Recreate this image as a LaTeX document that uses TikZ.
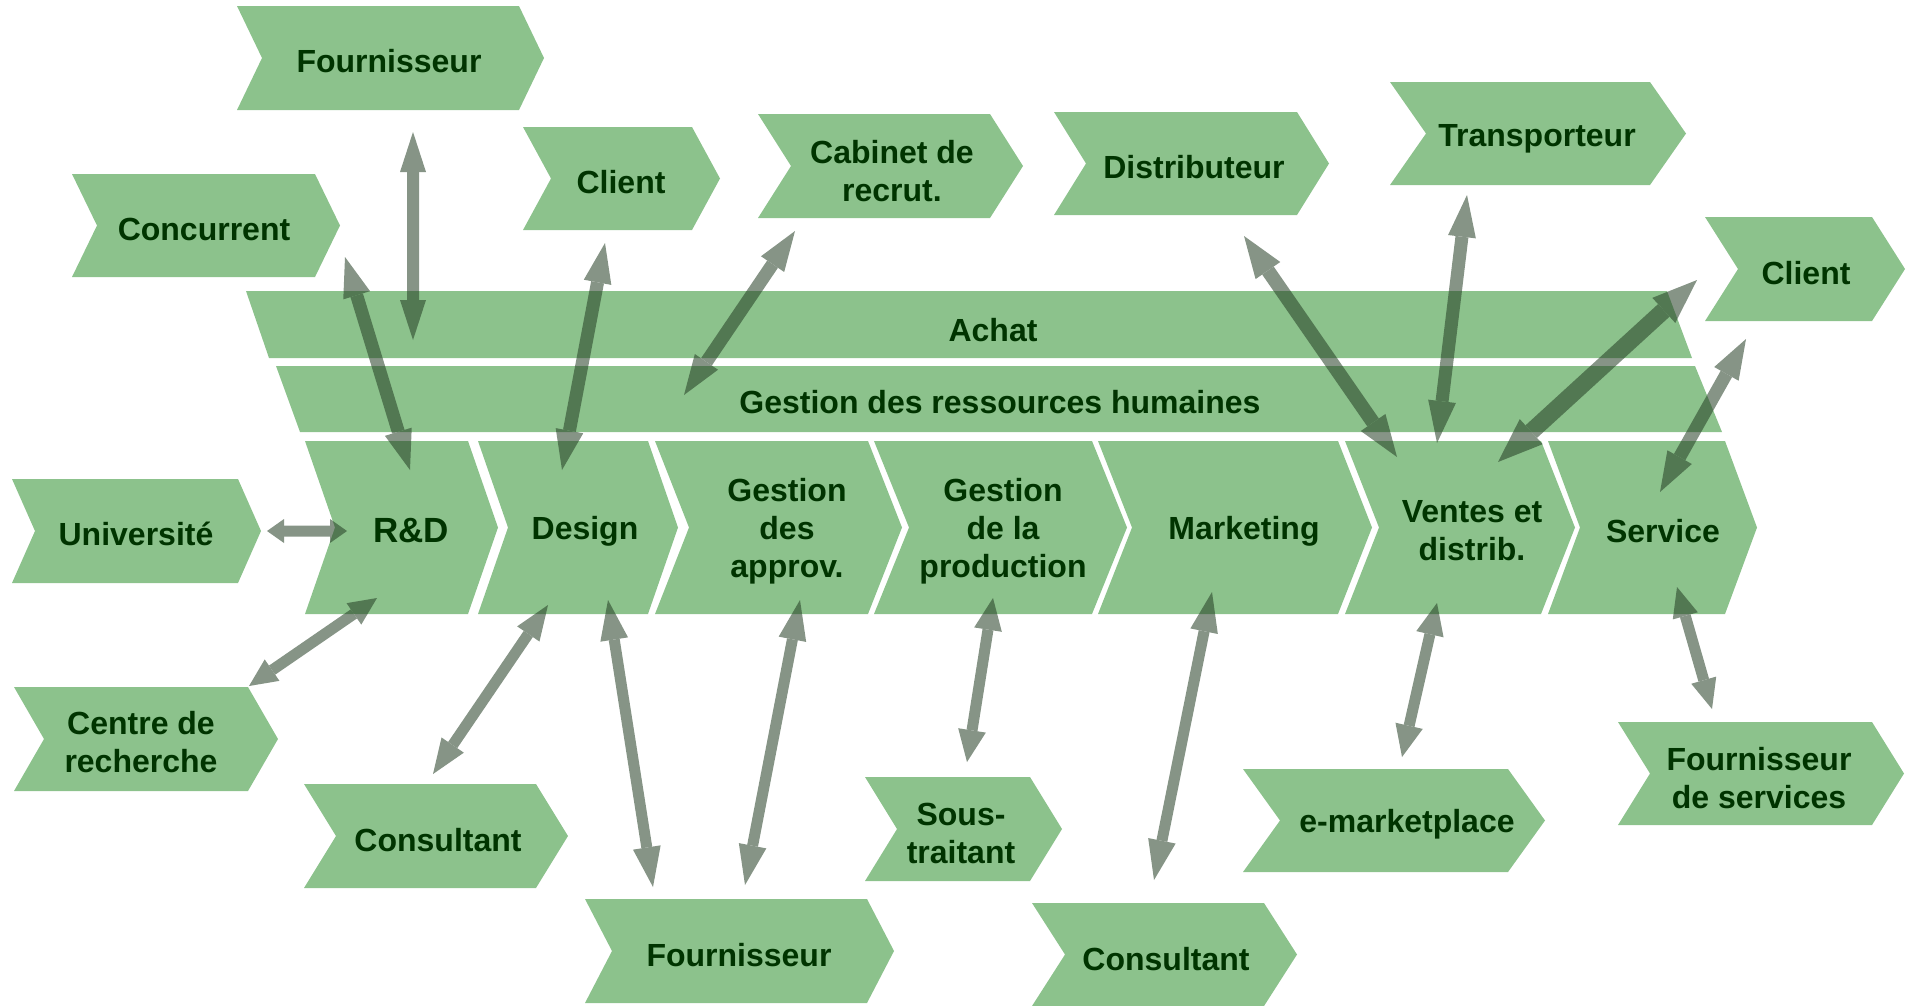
\documentclass[tikz,border=0pt]{standalone}
\usepackage{fontspec}
\setmainfont{Liberation Sans}
\usetikzlibrary{arrows.meta}
\definecolor{boxfill}{RGB}{140,194,140}
\definecolor{txtc}{RGB}{0,52,0}
\definecolor{arrc}{RGB}{35,60,35}
% #1 left x, #2 right x (top corner), #3 top y, #4 bottom y, #5 point depth
\newcommand\chevshape[5]{\fill[boxfill] (#1,#3) -- (#2,#3) -- ({#2+#5},{(#3+#4)/2}) -- (#2,#4) -- (#1,#4) -- ({#1+#5},{(#3+#4)/2}) -- cycle;}
\tikzset{
  lbl/.style={text=txtc, font=\fontsize{32}{38}\selectfont\bfseries, align=center, inner sep=0pt, yshift=-3pt},
  big/.style={font=\fontsize{35}{40}\selectfont\bfseries},
  dar/.style n args={3}{draw=arrc, line width=#1,
     {Triangle[length=#2,width=#3,line width=0pt]}-{Triangle[length=#2,width=#3,line width=0pt]}}
}
\begin{document}
\begin{tikzpicture}[x=1pt,y=-1pt]
\useasboundingbox (0,0) rectangle (1908,1005);
% ---------- support bars ----------
\fill[boxfill] (246,291) -- (1667,291) -- (1692,358) -- (269,358) -- cycle;
\fill[boxfill] (276,366) -- (1695,366) -- (1722,432) -- (300,432) -- cycle;
% ---------- primary chevrons ----------
\chevshape{305}{468}{441}{614}{30}
\chevshape{478}{648}{441}{614}{30}
\chevshape{655}{868}{441}{614}{34}
\chevshape{874}{1092}{441}{614}{35}
\chevshape{1098}{1338}{441}{614}{34}
\chevshape{1345}{1541}{441}{614}{34}
\chevshape{1548}{1725}{441}{614}{32}
% ---------- partners ----------
\chevshape{237}{519}{6}{110}{25}      % Fournisseur top
\chevshape{72}{315}{174}{277}{25}     % Concurrent
\chevshape{523}{692}{127}{230}{28}    % Client left
\chevshape{758}{990}{114}{218}{33}    % Cabinet
\chevshape{1054}{1297}{112}{215}{32}  % Distributeur
\chevshape{1390}{1650}{82}{185}{36}   % Transporteur
\chevshape{1705}{1872}{217}{321}{33}  % Client right
\chevshape{12}{238}{479}{583}{23}     % Universite
\chevshape{14}{248}{687}{791}{30}     % Centre
\chevshape{304}{536}{784}{888}{32}    % Consultant left
\chevshape{585}{867}{899}{1003}{27}   % Fournisseur bottom
\chevshape{865}{1030}{777}{881}{32}   % Sous-traitant
\chevshape{1032}{1264}{903}{1006}{33} % Consultant right
\chevshape{1243}{1508}{769}{872}{37}  % e-marketplace
\chevshape{1618}{1872}{722}{825}{32}  % Fournisseur de services
% ---------- arrow end points ----------
\coordinate (a1s) at (413,132);  \coordinate (a1e) at (413,340);
\coordinate (a2s) at (345,257);  \coordinate (a2e) at (410,470);
\coordinate (a3s) at (605,243);  \coordinate (a3e) at (562,470);
\coordinate (a4s) at (795,231);  \coordinate (a4e) at (684,395);
\coordinate (a5s) at (1244,236); \coordinate (a5e) at (1397,457);
\coordinate (a6s) at (1467,195); \coordinate (a6e) at (1437,443);
\coordinate (a7s) at (1697,280); \coordinate (a7e) at (1498,462);
\coordinate (a8s) at (1746,339); \coordinate (a8e) at (1660,492);
\coordinate (a9s) at (267,531);  \coordinate (a9e) at (347,531);
\coordinate (a10s) at (249,686); \coordinate (a10e) at (377,598);
\coordinate (a11s) at (433,774); \coordinate (a11e) at (548,605);
\coordinate (a12s) at (608,600); \coordinate (a12e) at (653,887);
\coordinate (a13s) at (800,600); \coordinate (a13e) at (745,885);
\coordinate (a14s) at (993,598); \coordinate (a14e) at (967,762);
\coordinate (a15s) at (1212,592); \coordinate (a15e) at (1154,880);
\coordinate (a16s) at (1437,603); \coordinate (a16e) at (1402,757);
\coordinate (a17s) at (1677,587); \coordinate (a17e) at (1712,709);
% ---------- arrows ----------
\begin{scope}[transparency group, opacity=0.55]
\draw[dar={12pt}{40pt}{26pt}] (a1s) -- (a1e);
\draw[dar={13pt}{40pt}{28pt}] (a2s) -- (a2e);
\draw[dar={13pt}{40pt}{28pt}] (a3s) -- (a3e);
\draw[dar={13pt}{40pt}{28pt}] (a4s) -- (a4e);
\draw[dar={14pt}{42pt}{30pt}] (a5s) -- (a5e);
\draw[dar={13pt}{42pt}{28pt}] (a6s) -- (a6e);
\draw[dar={17pt}{45pt}{34pt}] (a7s) -- (a7e);
\draw[dar={13pt}{40pt}{28pt}] (a8s) -- (a8e);
\draw[dar={11pt}{17pt}{24pt}] (a9s) -- (a9e);
\draw[dar={11pt}{28pt}{26pt}] (a10s) -- (a10e);
\draw[dar={11pt}{35pt}{27pt}] (a11s) -- (a11e);
\draw[dar={11pt}{40pt}{28pt}] (a12s) -- (a12e);
\draw[dar={11pt}{40pt}{28pt}] (a13s) -- (a13e);
\draw[dar={11pt}{32pt}{28pt}] (a14s) -- (a14e);
\draw[dar={11pt}{40pt}{28pt}] (a15s) -- (a15e);
\draw[dar={11pt}{32pt}{28pt}] (a16s) -- (a16e);
\draw[dar={11pt}{30pt}{26pt}] (a17s) -- (a17e);
\end{scope}
% ---------- labels ----------
\node[lbl] (fournT) at (389,58) {Fournisseur};
\node[lbl] (concur) at (204,226) {Concurrent};
\node[lbl] (clientL) at (621,179) {Client};
\node[lbl] (cabinet) at (892,168) {Cabinet de\\recrut.};
\node[lbl] (distrib) at (1194,164) {Distributeur};
\node[lbl] (transp) at (1537,136) {Transporteur};
\node[lbl] (clientR) at (1806,270) {Client};
\node[lbl] (achat) at (993,327) {Achat};
\node[lbl] (grh) at (1000,399) {Gestion des ressources humaines};
\node[lbl,big] (rd) at (411,528) {R\&D};
\node[lbl] (design) at (585,528) {Design};
\node[lbl] (approv) at (787,528) {Gestion\\des\\approv.};
\node[lbl] (prod) at (1003,528) {Gestion\\de la\\production};
\node[lbl] (market) at (1244,528) {Marketing};
\node[lbl] (ventes) at (1472,528) {Ventes et\\distrib.};
\node[lbl] (service) at (1663,528) {Service};
\node[lbl] (univ) at (136,531) {Université};
\node[lbl] (centre) at (141,739) {Centre de\\recherche};
\node[lbl] (consL) at (438,837) {Consultant};
\node[lbl] (fournB) at (739,952) {Fournisseur};
\node[lbl] (sous) at (961,830) {Sous-\\traitant};
\node[lbl] (consR) at (1166,956) {Consultant};
\node[lbl] (emark) at (1407,821) {e-marketplace};
\node[lbl] (fserv) at (1759,775) {Fournisseur\\de services};
\end{tikzpicture}
\end{document}
